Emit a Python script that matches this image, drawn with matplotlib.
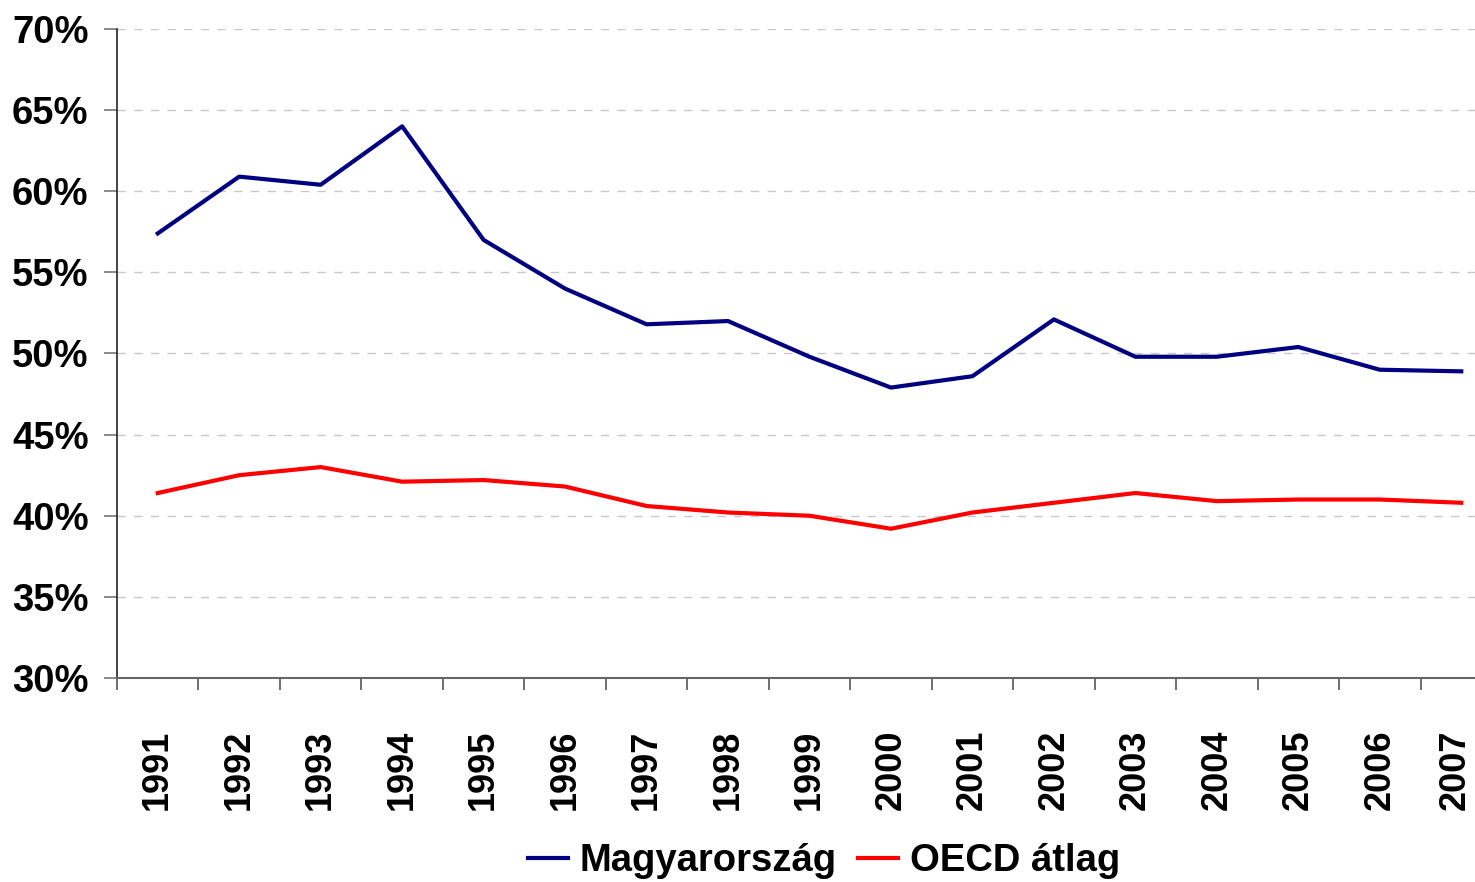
import numpy as np
import matplotlib
matplotlib.use("Agg")
import matplotlib.pyplot as plt
import matplotlib.transforms as mtransforms
from matplotlib.ticker import PercentFormatter

years = [str(y) for y in range(1991, 2008)]
magyar = [57.4, 60.9, 60.4, 64.0, 57.0, 54.0, 51.8, 52.0, 49.8, 47.9,
          48.6, 52.1, 49.8, 49.8, 50.4, 49.0, 48.9]
oecd = [41.4, 42.5, 43.0, 42.1, 42.2, 41.8, 40.6, 40.2, 40.0, 39.2,
        40.2, 40.8, 41.4, 40.9, 41.0, 41.0, 40.8]

plt.rcParams['font.family'] = ['Liberation Sans', 'DejaVu Sans']
plt.rcParams['font.weight'] = 'bold'
fs = 27.5

W, H = 1475, 882
fig = plt.figure(figsize=(W / 100, H / 100), dpi=100)
# plot area runs a bit past the right edge of the picture
ax = fig.add_axes([117 / W, 1 - 678 / H, (1502 - 117) / W, (678 - 29) / H])

x = np.arange(len(years))
ax.plot(x, magyar, color='#000080', lw=3.0, label='Magyarország', solid_joinstyle='round')
ax.plot(x, oecd, color='#ff0000', lw=3.0, label='OECD átlag', solid_joinstyle='round')

ax.set_xlim(-0.5, len(years) - 0.5)
ax.set_ylim(30, 70)
ax.set_yticks(np.arange(30, 71, 5))
ax.yaxis.set_major_formatter(PercentFormatter(decimals=0))
ax.set_xticks(np.arange(len(years) + 1) - 0.5)
ax.set_xticklabels([])
ax.set_xticks(x, minor=True)
ax.set_xticklabels(years, minor=True, rotation=90, fontsize=26, fontweight='bold')
ax.tick_params(axis='x', which='minor', length=0, pad=37)
ax.tick_params(axis='x', which='major', length=8.5, width=1.2, color='#555555', direction='out')
ax.tick_params(axis='y', length=9.5, width=1.2, color='#777777', labelsize=fs, pad=11)
for lab in ax.get_yticklabels():
    lab.set_fontweight('bold')

# last year label sits at the right edge, nudge it in a little
last = ax.get_xticklabels(minor=True)[-1]
last.set_transform(last.get_transform() + mtransforms.ScaledTranslation(-6 / 100, 0, fig.dpi_scale_trans))

ax.grid(axis='y', color='#c8c8c8', ls=(0, (6, 6)), lw=1)
ax.set_axisbelow(True)
for s in ['top', 'right']:
    ax.spines[s].set_visible(False)
ax.spines['left'].set_color('#222222')
ax.spines['bottom'].set_color('#666666')
ax.spines['left'].set_linewidth(1.2)
ax.spines['bottom'].set_linewidth(1.5)

fig.legend(loc='center', bbox_to_anchor=(824 / W, 1 - 861 / H), ncol=2, frameon=False,
           prop={'size': fs, 'weight': 'bold'}, handlelength=1.05, handletextpad=0.3,
           columnspacing=0.55, borderpad=0)

fig.savefig('out.png', dpi=100)
